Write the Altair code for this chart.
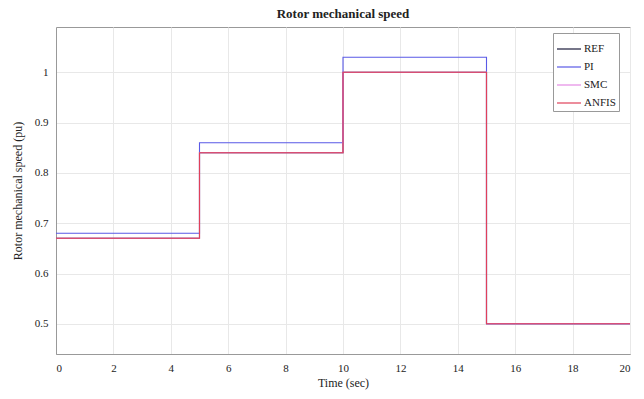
import altair as alt
import pandas as pd

series = ["REF", "PI", "SMC", "ANFIS"]
times = [0, 5, 10, 15, 20]
ref_vals = [0.67, 0.84, 1.00, 0.50, 0.50]
pi_vals = [0.68, 0.86, 1.03, 0.50, 0.50]
smc_vals = [0.67, 0.84, 1.00, 0.50, 0.50]
anfis_vals = [0.67, 0.84, 1.00, 0.50, 0.50]
colors = ["#1a1a3a", "#5a5ae6", "#e58ae5", "#e0405a"]
x_ticks = [0, 2, 4, 6, 8, 10, 12, 14, 16, 18, 20]
y_ticks = [0.5, 0.6, 0.7, 0.8, 0.9, 1.0]

rows = []
for name, vals in zip(series, [ref_vals, pi_vals, smc_vals, anfis_vals]):
    for t, v in zip(times, vals):
        rows.append({"t": t, "v": v, "s": name})
df = pd.DataFrame(rows)

font = "Liberation Serif"

chart = alt.Chart(df).mark_line(interpolate="step-after", strokeWidth=1.1).encode(
    x=alt.X("t:Q", scale=alt.Scale(domain=[0, 20], nice=False),
            axis=alt.Axis(values=x_ticks, title="Time (sec)", format="~g",
                          labelFont=font, titleFont=font)),
    y=alt.Y("v:Q", scale=alt.Scale(domain=[0.44, 1.09], nice=False, zero=False),
            axis=alt.Axis(values=y_ticks, title="Rotor mechanical speed (pu)", format="~g",
                          labelFont=font, titleFont=font)),
    color=alt.Color("s:N", scale=alt.Scale(domain=series, range=colors),
                    sort=series,
                    legend=alt.Legend(title=None, orient="none", legendX=497, legendY=6,
                                      symbolType="stroke", symbolSize=576,
                                      symbolStrokeWidth=1.2, labelFont=font,
                                      labelFontSize=11, labelColor="#222",
                                      strokeColor="#999", fillColor="white",
                                      padding=3, rowPadding=-8, labelOffset=2)),
    order=alt.Order("s:N"),
).properties(
    width=574, height=327,
    title=alt.Title("Rotor mechanical speed", font=font, fontSize=13,
                    fontWeight="bold", color="#222", offset=6),
    autosize=alt.AutoSizeParams(type="none"),
    padding={"left": 56, "top": 27, "right": 14, "bottom": 45},
).configure_axis(
    labelFont=font, titleFont=font, labelFontSize=11, titleFontSize=12,
    titleFontWeight="normal", labelColor="#222", titleColor="#222",
    grid=True, gridColor="#e8e8e8", ticks=False, domainColor="#999",
    labelPadding=8,
).configure_axisY(titlePadding=10).configure_axisX(titlePadding=4).configure_view(
    stroke="#999", strokeWidth=1
)

chart.save("out.html", embed_options={"renderer": "svg", "actions": False})
